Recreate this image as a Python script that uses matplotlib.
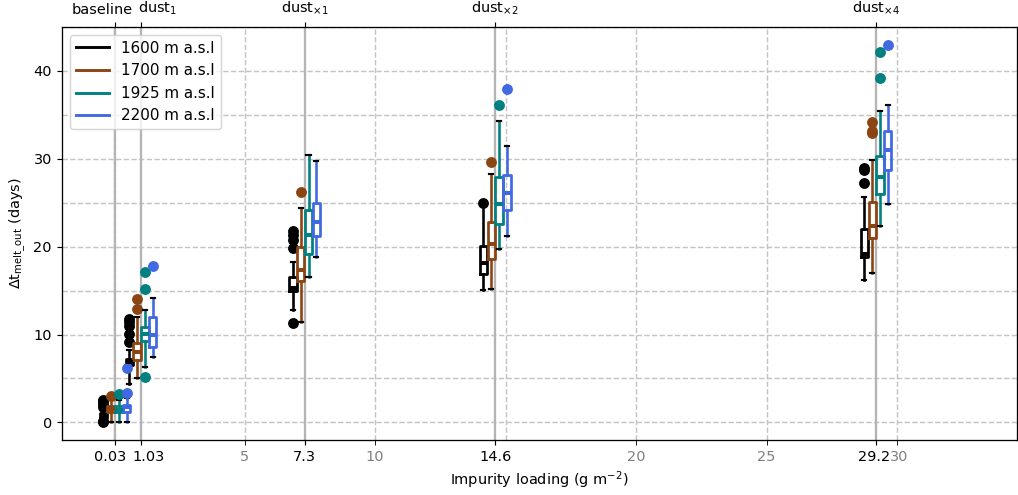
import matplotlib
matplotlib.use('Agg')
import matplotlib.pyplot as plt
import matplotlib.transforms as mtransforms
from matplotlib.lines import Line2D
from matplotlib.ticker import MultipleLocator, FixedLocator

#============================DATA============================
loadings = [0.03, 1.03, 7.3, 14.6, 29.2]
top_labels = ['baseline', 'dust$_1$', 'dust$_{\\times1}$', 'dust$_{\\times2}$', 'dust$_{\\times4}$']
gray_ticks = [5, 10, 20, 25, 30]
altitudes = ['1600 m a.s.l', '1700 m a.s.l', '1925 m a.s.l', '2200 m a.s.l']
colors = ['black', '#8B4513', '#008080', '#4169E1']

# box statistics per altitude, one value per loading
med_1600 = [0.9, 6.9, 15.3, 18.1, 19.2]
q1_1600 = [0.5, 6.5, 14.9, 16.9, 18.8]
q3_1600 = [1.1, 7.2, 16.6, 20.1, 22.0]
lo_1600 = [0.3, 4.4, 12.8, 15.1, 16.2]
hi_1600 = [1.5, 8.2, 18.3, 24.6, 25.7]
fl_1600 = [[0.0, 0.2, 1.8, 2.1, 2.4, 2.6], [9.2, 10.1, 11.0, 11.4, 11.8],
           [11.3, 19.9, 20.8, 21.3, 21.8], [25.0], [27.3, 28.7, 29.0]]

med_1700 = [1.5, 8.0, 17.3, 20.3, 22.4]
q1_1700 = [1.2, 7.1, 16.1, 18.6, 21.0]
q3_1700 = [1.9, 9.0, 20.0, 22.8, 25.1]
lo_1700 = [0.05, 5.0, 11.4, 15.2, 17.0]
hi_1700 = [2.5, 12.0, 24.4, 28.3, 29.9]
fl_1700 = [[3.0], [12.9, 14.0], [26.2], [29.6], [32.9, 33.2, 34.2]]

med_1925 = [1.4, 10.1, 21.3, 24.9, 27.9]
q1_1925 = [1.2, 9.3, 19.2, 22.6, 26.0]
q3_1925 = [1.9, 10.9, 24.2, 27.9, 30.3]
lo_1925 = [0.0, 6.3, 16.6, 19.7, 22.4]
hi_1925 = [2.6, 12.8, 30.4, 34.3, 35.4]
fl_1925 = [[3.2], [5.2, 15.2, 17.1], [], [36.1], [39.2, 42.2]]

med_2200 = [1.75, 10.0, 22.8, 26.1, 31.0]
q1_2200 = [1.2, 8.6, 21.2, 24.2, 28.7]
q3_2200 = [2.0, 12.0, 25.0, 28.2, 33.2]
lo_2200 = [0.1, 7.5, 18.8, 21.2, 24.9]
hi_2200 = [2.8, 14.2, 29.8, 31.5, 36.1]
fl_2200 = [[3.3, 6.2], [17.8], [], [37.9], [42.9]]

meds = [med_1600, med_1700, med_1925, med_2200]
q1s = [q1_1600, q1_1700, q1_1925, q1_2200]
q3s = [q3_1600, q3_1700, q3_1925, q3_2200]
los = [lo_1600, lo_1700, lo_1925, lo_2200]
his = [hi_1600, hi_1700, hi_1925, hi_2200]
fls = [fl_1600, fl_1700, fl_1925, fl_2200]
#=======================================================================

offsets = [-0.45, -0.15, 0.15, 0.45]

fig = plt.figure(figsize=(1018 / 104, 495 / 104), dpi=104)
ax = fig.add_axes([62 / 1018, 1 - 440 / 495, 955 / 1018, 413 / 495])


def shift(labels, pixels):
    for lab, dx in zip(labels, pixels):
        lab.set_transform(lab.get_transform() +
                          mtransforms.ScaledTranslation(dx / 104, 0, fig.dpi_scale_trans))


for x in loadings:
    ax.axvline(x, color='#b4b4b4', lw=1.6, zorder=1)

for i in range(4):
    stats = []
    for j in range(5):
        stats.append({'med': meds[i][j], 'q1': q1s[i][j], 'q3': q3s[i][j],
                      'whislo': los[i][j], 'whishi': his[i][j], 'fliers': fls[i][j]})
    c = colors[i]
    ax.bxp(stats, positions=[x + offsets[i] for x in loadings], widths=0.28,
           capwidths=0.16, manage_ticks=False, zorder=3,
           boxprops=dict(color=c, lw=1.9),
           medianprops=dict(color=c, lw=2.8),
           whiskerprops=dict(color=c, lw=1.8),
           capprops=dict(color='black', lw=1.5),
           flierprops=dict(marker='o', markerfacecolor=c, markeredgecolor=c,
                           markersize=6.5))

ax.set_xlim(-2, 34.6)
ax.set_ylim(-2, 45)

# bottom axis
ax.xaxis.set_major_locator(FixedLocator(loadings))
ax.set_xticklabels(['0.03', '1.03', '7.3', '14.6', '29.2'])
ax.xaxis.set_minor_locator(FixedLocator(gray_ticks))
ax.set_xticklabels([str(t) for t in gray_ticks], minor=True)
ax.tick_params(axis='x', which='minor', length=3.5, labelcolor='gray')
shift(ax.get_xticklabels(), [-4.5, 8, 0, 0, -2])
shift(ax.get_xticklabels(minor=True), [0, 0, 0, 0, 2])

ax.yaxis.set_major_locator(MultipleLocator(10))
ax.yaxis.set_minor_locator(MultipleLocator(5))
ax.tick_params(axis='y', which='minor', length=0)

# dashed grid every 5
for g in range(0, 35, 5):
    ax.axvline(g, color='#c4c4c4', ls='--', lw=1, zorder=0)
ax.grid(axis='y', which='both', color='#c4c4c4', ls='--', lw=1, zorder=0)
ax.set_axisbelow(True)

ax.set_xlabel('Impurity loading (g m$^{-2}$)')
ax.set_ylabel('$\\Delta$t$_{\\mathrm{melt\\_out}}$ (days)')

# top axis
top = ax.twiny()
top.set_xlim(ax.get_xlim())
top.set_xticks(loadings)
top.set_xticklabels(top_labels)
shift(top.get_xticklabels(), [-13, 17, 0, 0, 0])

handles = [Line2D([], [], color=c, lw=2) for c in colors]
ax.legend(handles, altitudes, loc='upper left', fontsize=10.5, handlelength=2.2)

fig.savefig('out.png', dpi=104)
